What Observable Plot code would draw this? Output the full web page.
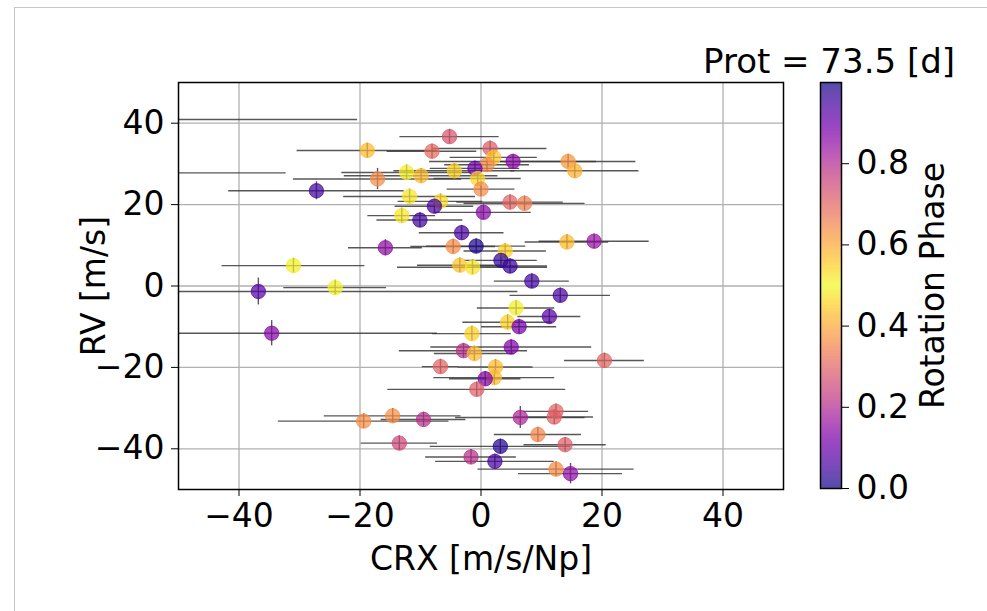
<!DOCTYPE html>
<html><head><meta charset="utf-8">
<script src="https://cdn.jsdelivr.net/npm/d3@7"></script>
<script src="https://cdn.jsdelivr.net/npm/@observablehq/plot@0.6"></script>
<style>
html,body{margin:0;padding:0;background:#fff;overflow:hidden;}
#wrap{position:relative;width:987px;height:611px;overflow:hidden;}
#border{position:absolute;left:14px;top:7px;width:1100px;height:800px;border:1px solid #c8c8c8;}
#wrap svg{position:absolute;top:0;}
</style></head><body><div id="wrap"><div id="border"></div></div>
<script>
const title = "Prot = 73.5 [d]";
const xLabel = "CRX [m/s/Np]";
const yLabel = "RV [m/s]";
const cLabel = "Rotation Phase";
const axisTicks = [-40, -20, 0, 20, 40];
const cbarTicks = [0, 0.2, 0.4, 0.6, 0.8];

const crx = [-5.2,-18.8,-8.1,1.5,2.1,1.0,5.3,14.4,15.5,-1.0,
  -4.4,-12.3,-9.9,-17.1,-0.55,0.0,-27.2,-11.8,-6.7,-7.7,
  4.8,7.2,0.4,-13.1,-10.1,-3.2,-15.8,-4.6,-0.8,18.7,
  14.2,4.0,3.3,4.8,-3.5,-1.4,-31.0,8.4,-24.1,-36.8,
  13.1,5.8,11.3,-34.6,4.4,6.3,-1.5,5.0,-2.9,-1.1,
  20.4,-6.7,2.4,2.2,0.7,-0.7,-14.6,-19.4,-9.5,6.5,
  12.4,12.1,9.4,-13.5,3.2,13.9,-1.65,2.3,12.4,14.8,
  -60,-58];
const rv = [36.7,33.3,33.1,33.8,31.6,29.8,30.6,30.6,28.3,28.9,
  28.3,27.9,27.1,26.3,26.4,23.8,23.4,22.0,20.8,19.6,
  20.6,20.3,18.1,17.3,16.2,13.1,9.4,9.7,9.8,11.0,
  10.8,8.6,6.3,4.9,5.1,4.6,5.0,1.2,-0.4,-1.35,
  -2.3,-5.4,-7.5,-11.6,-8.9,-10.0,-11.7,-15.0,-15.9,-16.6,
  -18.3,-19.8,-19.9,-22.5,-22.8,-25.4,-31.9,-33.2,-32.8,-32.3,
  -30.8,-32.2,-36.5,-38.6,-39.4,-39.0,-42.0,-43.1,-45.0,-46.1,
  40.9,27.8];
const xerr = [8.2,11.6,7.4,9.4,7.2,7.0,13.8,11.2,10.6,7.4,
  10.0,10.7,12.7,13.9,7.2,5.6,14.5,10.9,7.0,6.5,
  8.8,10.0,7.9,5.6,7.1,7.0,6.1,7.0,8.2,9.1,
  6.9,6.8,6.0,6.2,7.0,12.4,11.8,6.2,8.5,42.9,
  8.3,6.4,5.2,27.4,7.4,6.2,6.5,13.3,10.6,6.6,
  6.6,3.0,6.2,10.0,5.9,14.7,11.3,14.1,7.0,10.7,
  5.4,6.5,7.2,6.3,11.6,6.8,7.5,9.8,12.9,8.6,
  39.6,25.8];
const yerr = [1.8,1.8,1.8,1.8,1.8,1.8,1.8,1.8,1.8,1.8,
  1.8,1.8,1.8,2.6,1.8,1.8,2.2,1.8,1.8,1.8,
  1.8,1.8,1.8,1.8,1.8,1.8,2.0,1.8,1.8,1.8,
  1.8,1.8,1.8,1.8,1.8,1.8,1.8,1.8,1.8,3.3,
  1.8,1.8,1.8,3.1,1.8,1.8,1.8,1.8,1.8,1.8,
  1.8,1.8,1.8,1.8,1.8,1.8,1.8,1.8,1.8,2.7,
  1.8,1.8,1.8,1.8,1.8,1.8,1.8,1.8,1.8,2.5,
  2.0,2.0];
const phase = [0.725,0.425,0.69,0.285,0.44,0.64,0.86,0.375,0.41,0.1,
  0.45,0.515,0.575,0.36,0.46,0.64,0.05,0.525,0.465,0.94,
  0.7,0.34,0.14,0.475,0.95,0.06,0.85,0.36,0.015,0.84,
  0.575,0.45,0.97,0.04,0.435,0.525,0.49,0.95,0.51,0.075,
  0.94,0.485,0.075,0.865,0.45,0.11,0.55,0.875,0.79,0.425,
  0.3,0.7,0.575,0.425,0.125,0.71,0.365,0.635,0.21,0.81,
  0.3,0.71,0.35,0.25,0.98,0.29,0.79,0.06,0.64,0.85,
  0.5,0.5];

const data = crx.map((x, i) => ({x, y: rv[i], xe: xerr[i], ye: yerr[i], p: phase[i]}));
const cyc = t => d3.interpolatePlasma(1 - Math.abs(2 * t - 1));
const FONT = "DejaVu Sans";
const FS = 33;

const wrap = document.getElementById("wrap");

const main = Plot.plot({
  width: 987, height: 611,
  marginLeft: 178, marginRight: 204, marginTop: 82, marginBottom: 122,
  style: {fontFamily: FONT, fontSize: FS + "px", background: "transparent", color: "black"},
  x: {domain: [-50, 50]},
  y: {domain: [-50, 50]},
  color: {type: "linear", domain: [0, 1], interpolate: cyc},
  marks: [
    Plot.gridX(axisTicks, {stroke: "#b0b0b0", strokeOpacity: 1, strokeWidth: 1.3}),
    Plot.gridY(axisTicks, {stroke: "#b0b0b0", strokeOpacity: 1, strokeWidth: 1.3}),
    Plot.ruleY(data, {y: "y", x1: d => d.x - d.xe, x2: d => d.x + d.xe, stroke: "#3a3a3a", strokeOpacity: 0.85, strokeWidth: 1.4, clip: true}),
    Plot.ruleX(data, {x: "x", y1: d => d.y - d.ye, y2: d => d.y + d.ye, stroke: "#3a3a3a", strokeOpacity: 0.85, strokeWidth: 1.4, clip: true}),
    Plot.dot(data, {x: "x", y: "y", r: 7.2, fill: "p", fillOpacity: 0.72, stroke: "p", strokeOpacity: 0.72, strokeWidth: 1, clip: true}),
    Plot.frame({stroke: "black", strokeWidth: 1.5}),
    Plot.axisX({ticks: axisTicks, tickSize: 7, tickPadding: 7, fontSize: FS, fontFamily: FONT,
      label: xLabel, labelAnchor: "center", labelOffset: 80, labelArrow: "none"}),
    Plot.axisY({ticks: axisTicks, tickSize: 7, tickPadding: 7, fontSize: FS, fontFamily: FONT,
      label: yLabel, labelAnchor: "center", labelOffset: 97, labelArrow: "none"})
  ]
});
main.style.left = "0px";
wrap.appendChild(main);

d3.select(main).append("text")
  .attr("x", 955).attr("y", 73)
  .attr("text-anchor", "end")
  .attr("font-family", FONT).attr("font-size", 34)
  .attr("fill", "black")
  .text(title);

const step = 0.0025;
const cells = d3.range(0, 1, step);
const cbar = Plot.plot({
  width: 187, height: 611,
  marginLeft: 20, marginRight: 146, marginTop: 82, marginBottom: 123,
  style: {fontFamily: FONT, fontSize: FS + "px", background: "transparent", color: "black"},
  x: {domain: [0, 1], axis: null},
  y: {domain: [0, 1]},
  color: {type: "linear", domain: [0, 1], interpolate: t => d3.interpolateRgb("white", cyc(t))(0.72)},
  marks: [
    Plot.rect(cells, {x1: 0, x2: 1, y1: d => d, y2: d => Math.min(1, d + step * 1.8), fill: d => d + step / 2, shapeRendering: "crispEdges"}),
    Plot.frame({stroke: "black", strokeWidth: 1.5}),
    Plot.axisY({anchor: "right", ticks: cbarTicks, tickFormat: d => d.toFixed(1), tickSize: 7, tickPadding: 8,
      fontSize: FS, fontFamily: FONT, label: cLabel, labelAnchor: "center", labelOffset: 102, labelArrow: "none"})
  ]
});
cbar.style.left = "800px";
wrap.appendChild(cbar);
</script>
</body></html>
